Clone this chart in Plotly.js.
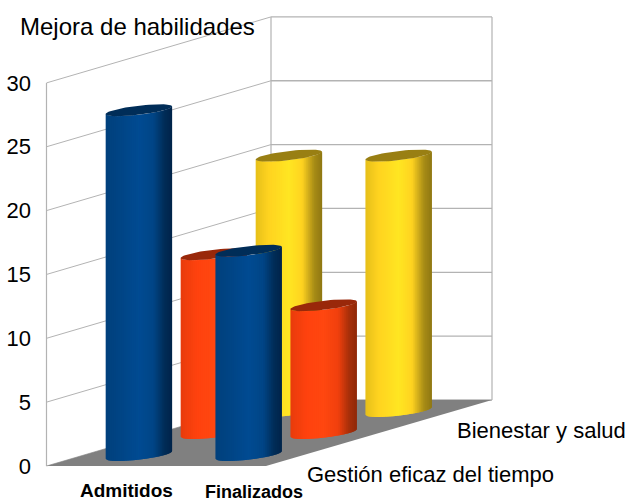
<!DOCTYPE html>
<html><head><meta charset="utf-8">
<script src="https://cdn.plot.ly/plotly-3.0.1.min.js"></script>
<style>html,body{margin:0;padding:0;background:#fff}</style></head>
<body><div id="chart" style="width:633px;height:501px"></div>
<script>
const chartTitle = 'Mejora de habilidades';
const categories = ['Admitidos', 'Finalizados'];
const seriesNames = ['Mejora de habilidades', 'Gestión eficaz del tiempo', 'Bienestar y salud'];
const blueValues = [27, 16];
const orangeValues = [14, 10];
const yellowValues = [20, 20];
const tickValues = [0, 5, 10, 15, 20, 25, 30];
const blueStops = [[0,'#00407c'],[0.25,'#004586'],[0.5,'#004b92'],[0.72,'#004586'],[0.88,'#002d58'],[1,'#00234a']];
const orangeStops = [[0,'#e83c0c'],[0.25,'#ff420e'],[0.5,'#ff4710'],[0.72,'#f0400d'],[0.88,'#a8300a'],[1,'#8e2808']];
const yellowStops = [[0,'#e6c01a'],[0.2,'#ffd320'],[0.5,'#ffe622'],[0.7,'#ffd320'],[0.88,'#a88c16'],[1,'#8f7712']];
const capColors = ['#002d58', '#99280a', '#997f13'];

// Oblique projection geometry (screen pixels)
const W = 633, H = 501, ML = 32;
const ZERO = 466, UNIT = 12.77;
const FL = 46.5, FR = 266, DX = 225, DY = 66;
const RAD = 33.2, CAPB = 4.6, SKEW = 0.115;
const yOf = p => (ZERO - p) / UNIT;
const hex = c => [1,3,5].map(i => parseInt(c.substr(i,2),16));
function shade(stops, t){
  for (let i = 1; i < stops.length; i++) if (t <= stops[i][0]) {
    const [t0,c0] = stops[i-1], [t1,c1] = stops[i];
    const f = (t-t0)/(t1-t0), a = hex(c0), b = hex(c1);
    return 'rgb(' + a.map((v,k)=>Math.round(v+(b[k]-v)*f)).join(',') + ')';
  }
  return stops[stops.length-1][1];
}
const traces = [];
function poly(x, y, color){
  traces.push({type:'scatter', mode:'lines', x, y, fill:'toself', fillcolor:color,
    line:{width:0, color:color}, hoverinfo:'skip', showlegend:false});
}
function lines(segs, width){
  const x = [], y = [];
  segs.forEach(s => { x.push(s[0], s[2], null); y.push(s[1], s[3], null); });
  traces.push({type:'scatter', mode:'lines', x, y, line:{color:'#b3b3b3', width}, hoverinfo:'skip', showlegend:false});
}
function cylinder(cat, row, value, stops, capColor){
  const frac = (row + 0.5) / seriesNames.length;
  const cx = FL + (FR - FL) * (cat + 0.5) / categories.length + DX * frac;
  const base = DY * frac / UNIT;
  const edge = (x, level) => {
    const u = Math.max(-1, Math.min(1, (x - cx) / RAD));
    return level + (SKEW * (x - cx) - CAPB * Math.sqrt(1 - u * u)) / UNIT;
  };
  const step = 2, x0 = cx - RAD, x1 = cx + RAD;
  for (let a = x0; a < x1; a += step) {
    const b = Math.min(x1, a + 2 * step);
    const xs = [], ys = [];
    const n = 4;
    for (let i = 0; i <= n; i++) { const x = a + (b-a)*i/n; xs.push(x); ys.push(edge(x, base + value)); }
    for (let i = n; i >= 0; i--) { const x = a + (b-a)*i/n; xs.push(x); ys.push(edge(x, base)); }
    poly(xs, ys, shade(stops, (a + step/2 - x0) / (2*RAD)));
  }
  const cxs = [], cys = [];
  for (let i = 0; i <= 60; i++) {
    const t = i / 60 * 2 * Math.PI, dx = RAD * Math.cos(t);
    cxs.push(cx + dx);
    cys.push(base + value + (SKEW * dx + CAPB * Math.sin(t)) / UNIT);
  }
  poly(cxs, cys, capColor);
}
// Walls and floor
const D = DY / UNIT, topTick = tickValues[tickValues.length-1];
const BL = FL + DX - 0.5, BR = FR + DX + 1;
lines(tickValues.map(v => [FL, v, BL, v + D]), 1);
lines(tickValues.map(v => [BL, v + D, BR, v + D]), 1.3);
lines([[FL,0,FL,topTick],[BL,D,BL,topTick+D],[BR,D,BR,topTick+D]], 1.2);
poly([FL, FR, BR, BL, FL], [0, 0, D, D, 0], '#808080');
// Bars, back to front
[[yellowValues,yellowStops,2],[orangeValues,orangeStops,1],[blueValues,blueStops,0]].forEach(([vals,stops,row]) => {
  vals.forEach((v,c) => cylinder(c, row, v, stops, capColors[row]));
});
const font = {family:'"Liberation Sans", Arial, sans-serif', color:'#000'};
const note = (text, x, p, size, anchor, bold) => ({text: bold ? '<b>'+text+'</b>' : text,
  xref:'paper', yref:'paper', x:(x - ML) / (W - ML), y:1 - p / H,
  xanchor:anchor, yanchor:'middle', showarrow:false, font:{...font, size}});
const layout = {
  width:W, height:H, autosize:false, showlegend:false,
  paper_bgcolor:'#fff', plot_bgcolor:'rgba(0,0,0,0)',
  margin:{l:ML, r:0, t:0, b:0},
  xaxis:{range:[ML, W], visible:false, fixedrange:true},
  yaxis:{range:[yOf(H), yOf(0)], tickmode:'array', tickvals:tickValues, ticktext:tickValues.map(String),
    showgrid:false, zeroline:false, showline:false, ticks:'', tickfont:{...font, size:22}, fixedrange:true},
  annotations:[
    note(chartTitle, 18, 27, 24, 'left'),
    note(categories[0], 126, 490, 19, 'center', true),
    note(categories[1], 254, 492, 18, 'center', true),
    note(seriesNames[2], 455, 430, 22, 'left'),
    note(seriesNames[1], 305, 474, 22, 'left')
  ]
};
Plotly.newPlot('chart', traces, layout, {displayModeBar:false, staticPlot:true});
</script></body></html>
